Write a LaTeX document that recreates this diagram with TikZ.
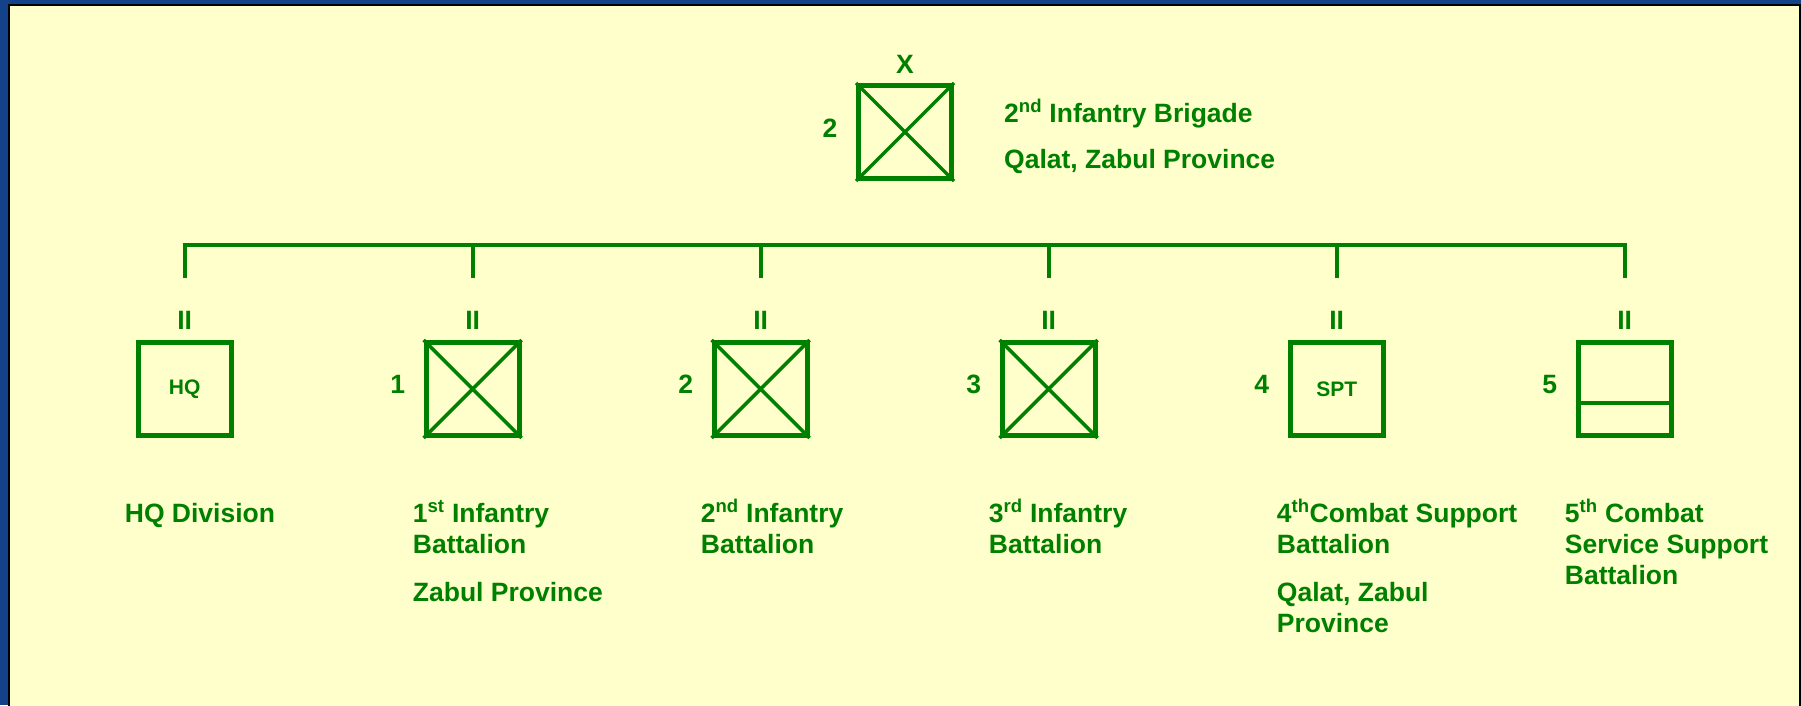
\documentclass[tikz,border=0pt]{standalone}
\usepackage{fontspec}
\setmainfont{Liberation Sans}
\usetikzlibrary{positioning}
\definecolor{armygreen}{RGB}{0,128,0}
\definecolor{panelyellow}{RGB}{255,255,204}
\definecolor{slideblue}{RGB}{20,66,136}
\newcommand{\lblfont}{\fontsize{26.5}{31}\selectfont\bfseries}
\newcommand{\tagfont}{\fontsize{21}{24}\selectfont\bfseries}
\newcommand{\lines}[1]{\begin{tabular}[t]{@{}l@{}}#1\end{tabular}}

\begin{document}
\begin{tikzpicture}[x=1pt,y=-1pt,
    unit/.style={draw=armygreen,line width=5pt,minimum size=93pt,inner sep=0pt,
      text=armygreen,font=\tagfont},
    cross/.style={draw=armygreen,line width=3.5pt},
    ech/.style={text=armygreen,font=\lblfont,inner sep=0pt,anchor=base},
    txt/.style={text=armygreen,font=\lblfont,inner sep=0pt,anchor=base west},
    wire/.style={draw=armygreen,line width=4pt}]
    \useasboundingbox (0,0) rectangle (1801,705);
    \fill[slideblue] (0,0) rectangle (1801,705);
    \begin{scope}
    \clip (0,0) rectangle (1801,705);
    \draw[line width=2.5pt,fill=panelyellow] (9,5) rectangle (1800,720);
    \end{scope}
    % brigade
    \node[unit] (bde) at (905,132) {};
    \draw[cross] (bde.north west) -- (bde.south east) (bde.north east) -- (bde.south west);
    \node[ech] (bdeX) at (905,73) {X};
    \node[ech] (bdeN) at (830,137) {2};
    \node[txt] (bdeT) at (1004,122) {\lines{2\textsuperscript{nd} Infantry Brigade\\[15pt] Qalat, Zabul Province}};
    % battalions
    \foreach \i/\cx in {1/184.7,2/472.7,3/760.7,4/1048.7,5/1336.7,6/1624.7}{
      \node[unit] (b\i) at (\cx,389) {};
      \node[ech] (e\i) at (\cx,329) {II};
    }
    \node at (b1) [text=armygreen,font=\tagfont] {HQ};
    \node at (b5) [text=armygreen,font=\tagfont] {SPT};
    \foreach \i in {2,3,4}
      \draw[cross] (b\i.north west) -- (b\i.south east) (b\i.north east) -- (b\i.south west);
    \draw[wire] (b6.west |- 0,403) -- (b6.east |- 0,403);
    \node[ech] (n2) at (397.7,393) {1};
    \node[ech] (n3) at (685.7,393) {2};
    \node[ech] (n4) at (973.7,393) {3};
    \node[ech] (n5) at (1261.7,393) {4};
    \node[ech] (n6) at (1549.7,393) {5};
    % bus
    \coordinate (bus) at (0,245);
    \draw[wire] ([yshift=33pt]e1.north) |- (e6.north |- bus) -- ([yshift=33pt]e6.north);
    \foreach \i in {2,...,5}
      \draw[wire] (e\i.north |- bus) -- ([yshift=33pt]e\i.north);
    % names
    \node[txt] (t1) at (124.7,522) {\lines{HQ Division}};
    \node[txt] (t2) at (412.7,522) {\lines{1\textsuperscript{st} Infantry\\ Battalion\\[17pt] Zabul Province}};
    \node[txt] (t3) at (700.7,522) {\lines{2\textsuperscript{nd} Infantry\\ Battalion}};
    \node[txt] (t4) at (988.7,522) {\lines{3\textsuperscript{rd} Infantry\\ Battalion}};
    \node[txt] (t5) at (1276.7,522) {\lines{4\textsuperscript{th}Combat Support\\ Battalion\\[17pt] Qalat, Zabul\\ Province}};
    \node[txt] (t6) at (1564.7,522) {\lines{5\textsuperscript{th} Combat\\ Service Support\\ Battalion}};
\end{tikzpicture}
\end{document}
